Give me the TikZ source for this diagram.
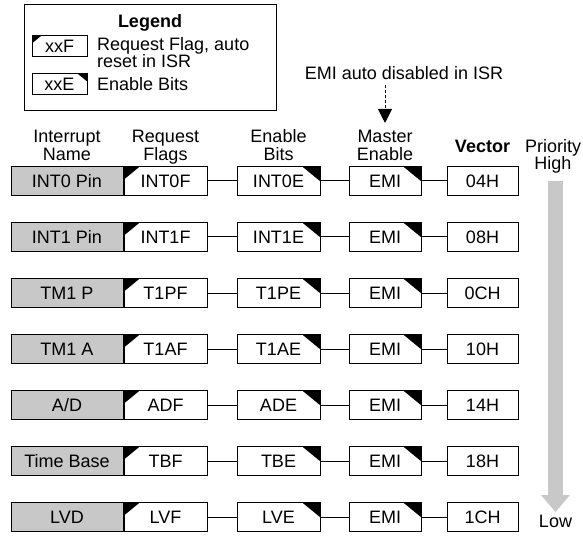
\documentclass[tikz,border=0pt]{standalone}
\usepackage{fontspec}
\setmainfont{Liberation Sans}
\usetikzlibrary{arrows.meta,positioning}
\definecolor{boxgray}{RGB}{200,200,200}

\begin{document}
\begin{tikzpicture}[x=1pt,y=-1pt,
  font=\fontsize{18}{18}\selectfont,
  box/.style={draw,line width=1pt,fill=#1,minimum height=28.5pt,inner sep=0pt},
  box/.default=white,
  namebox/.style={box=boxgray,minimum width=112pt},
  flagbox/.style={box,minimum width=83pt,
    path picture={\fill[black] (path picture bounding box.north west) -- ++(#1,0pt) -- ++(-#1,-0.82*#1) -- cycle;}},
  flagbox/.default=15.5pt,
  enbox/.style={box,minimum width=83pt,
    path picture={\fill[black] (path picture bounding box.north east) -- ++(-#1,0pt) -- ++(#1,-0.82*#1) -- cycle;}},
  enbox/.default=17.5pt,
  hdr/.style={align=center,inner sep=0pt,text depth=0pt},
  arr/.style={line width=1pt},
  dasharr/.style={line width=1pt,dash pattern=on 3pt off 2pt,-{Triangle[length=14pt,width=14pt]}},
  prioarr/.style={draw=boxgray,line width=15pt,-{Triangle[length=17pt,width=28pt]}}
]
\useasboundingbox (0,0) rectangle (583,537);

% legend
\node[draw,line width=1pt,minimum width=252pt,minimum height=106pt] (leg) at (150,58) {};
\node[font=\fontsize{18}{18}\selectfont\bfseries,inner sep=0pt] (legT) at (150,22.5) {Legend};
\node[flagbox=9pt,minimum width=55pt,minimum height=21pt] (legF) at (59.5,46.5) {xxF};
\node[enbox=9pt,minimum width=55pt,minimum height=21pt] (legE) at (59.5,84.5) {xxE};
\node[anchor=north west,align=left,inner sep=0pt,font=\fontsize{18}{17.5}\selectfont] (legFt) at (97,37) {Request Flag, auto\\reset in ISR};
\node[anchor=west,inner sep=0pt] (legEt) at (97,84) {Enable Bits};

% interrupt rows
\foreach \nm/\fl/\en/\vc [count=\i] in {INT0 Pin/INT0F/INT0E/04H, INT1 Pin/INT1F/INT1E/08H,
    TM1 P/T1PF/T1PE/0CH, TM1 A/T1AF/T1AE/10H, {A/D}/ADF/ADE/14H, Time Base/TBF/TBE/18H, LVD/LVF/LVE/1CH}{
  \node[namebox] (n\i) at (67,{125+56*\i}) {\nm};
  \node[flagbox,right=0pt of n\i] (f\i) {\fl};
  \node[enbox,right=29pt of f\i] (e\i) {\en};
  \node[enbox,minimum width=72pt,right=28pt of e\i] (m\i) {EMI};
  \node[box,minimum width=71pt,right=25pt of m\i] (v\i) {\vc};
  \draw[arr] (f\i) -- (e\i);
  \draw[arr] (e\i) -- (m\i);
  \draw[arr] (m\i) -- (v\i);
}

% column headers
\node[hdr,above=5.5pt of n1] (hN) {Interrupt\\Name};
\node[hdr,above=5.5pt of f1] (hF) {Request\\Flags};
\node[hdr,above=5.5pt of e1] (hE) {Enable\\Bits};
\node[hdr,above=5.5pt of m1] (hM) {Master\\Enable};
\node[hdr,font=\fontsize{18}{18}\selectfont\bfseries,above=14pt of v1] (hV) {Vector};

% EMI note
\node[inner sep=0pt] (note) at (404,73.5) {EMI auto disabled in ISR};
\draw[dasharr,shorten <=5pt,shorten >=7pt] (note.south -| hM.north) -- (hM.north);

% priority
\node[hdr,anchor=south,font=\fontsize{18}{17}\selectfont] (prio) at (553,169.5) {Priority\\High};
\node[inner sep=0pt] (low) at (555.5,521) {Low};
\draw[prioarr,shorten <=11.5pt,shorten >=2.5pt] (prio.south -| low.north) -- (low.north);
\end{tikzpicture}
\end{document}
